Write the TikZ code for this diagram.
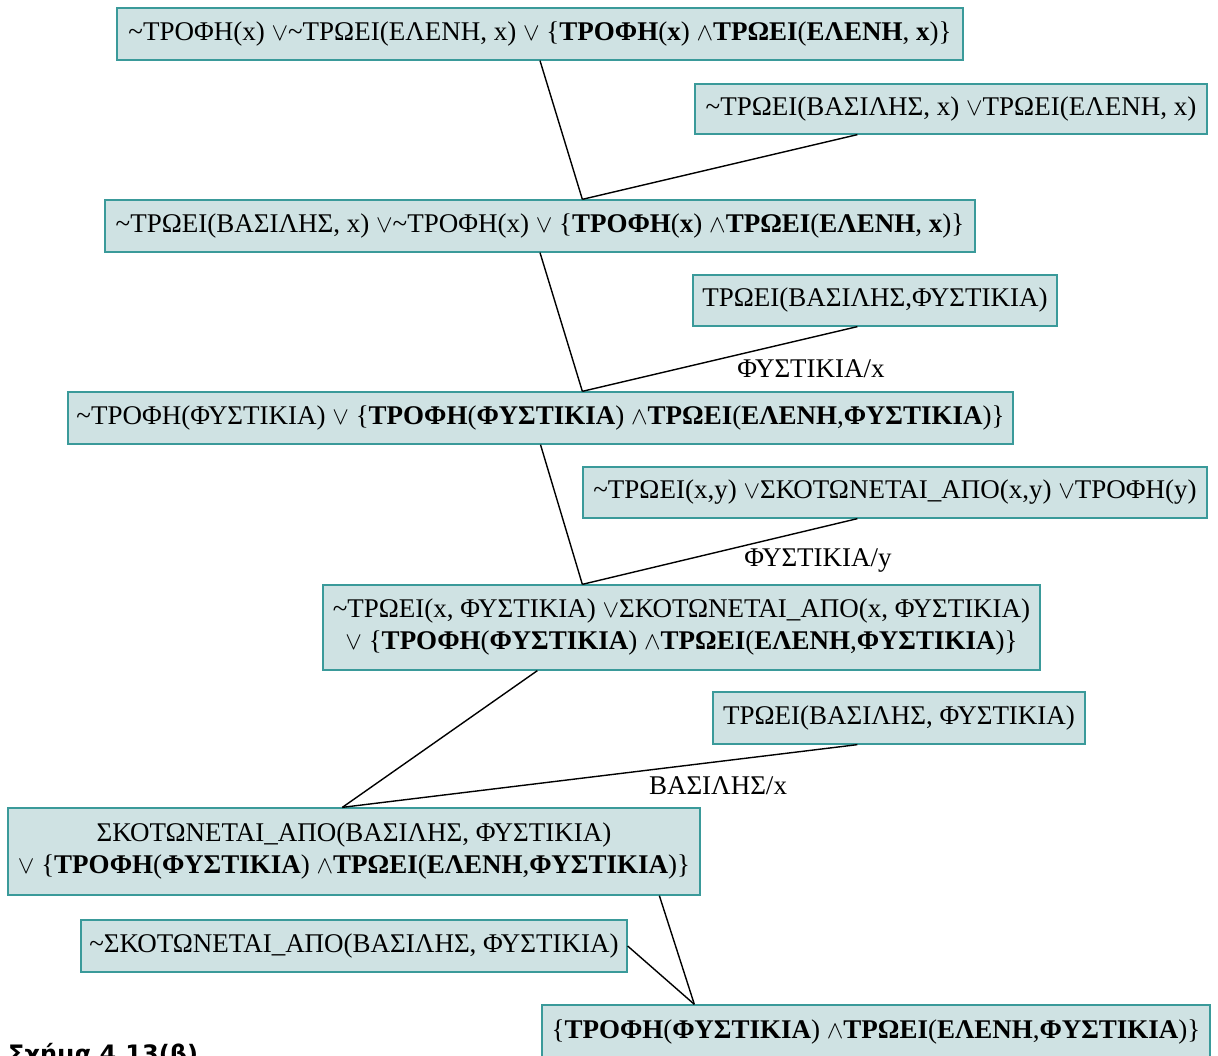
\documentclass[tikz,border=0pt]{standalone}
\usepackage{fontspec}
\setmainfont{Liberation Serif}
\newfontfamily\captionfont{DejaVu Sans}
\usetikzlibrary{calc}
\definecolor{boxfill}{HTML}{CFE2E3}
\definecolor{boxline}{HTML}{3A9A9A}
% small logical connectives
\newcommand{\orsym}{{\fontsize{24}{24}\selectfont$\vee$}}
\newcommand{\andsym}{{\fontsize{24}{24}\selectfont$\wedge$}}
\newcommand{\negsym}{\textasciitilde}
\tikzset{
  clause/.style={draw=boxline, fill=boxfill, line width=1.3pt, inner sep=0pt,
    align=center, font=\fontsize{27}{32}\selectfont},
  subst/.style={inner sep=0pt, font=\fontsize{27}{32}\selectfont},
  conn/.style={draw=black, line width=1.4pt}
}
\begin{document}
\begin{tikzpicture}[x=1pt, y=-1pt]
\clip (0,0) rectangle (1218,1056);
\fill[white] (0,0) rectangle (1218,1056);

\node[clause, minimum width=846, minimum height=52] (A) at (540,34)
  {\negsym ΤΡΟΦΗ(x) \orsym\negsym ΤΡΩΕΙ(ΕΛΕΝΗ, x) \orsym\ \{\textbf{ΤΡΟΦΗ}(\textbf{x}) \andsym\textbf{ΤΡΩΕΙ}(\textbf{ΕΛΕΝΗ}, \textbf{x})\}};
\node[clause, minimum width=512, minimum height=50] (B) at (951,109)
  {\negsym ΤΡΩΕΙ(ΒΑΣΙΛΗΣ, x) \orsym ΤΡΩΕΙ(ΕΛΕΝΗ, x)};
\node[clause, minimum width=870, minimum height=52] (C) at (540,226)
  {\negsym ΤΡΩΕΙ(ΒΑΣΙΛΗΣ, x) \orsym\negsym ΤΡΟΦΗ(x) \orsym\ \{\textbf{ΤΡΟΦΗ}(\textbf{x}) \andsym\textbf{ΤΡΩΕΙ}(\textbf{ΕΛΕΝΗ}, \textbf{x})\}};
\node[clause, minimum width=364, minimum height=51] (D) at (875,300.5)
  {ΤΡΩΕΙ(ΒΑΣΙΛΗΣ,ΦΥΣΤΙΚΙΑ)};
\node[clause, minimum width=945, minimum height=52] (E) at (540.5,418)
  {\negsym ΤΡΟΦΗ(ΦΥΣΤΙΚΙΑ) \orsym\ \{\textbf{ΤΡΟΦΗ}(\textbf{ΦΥΣΤΙΚΙΑ}) \andsym\textbf{ΤΡΩΕΙ}(\textbf{ΕΛΕΝΗ},\textbf{ΦΥΣΤΙΚΙΑ})\}};
\node[clause, minimum width=624, minimum height=51] (F) at (895,492.5)
  {\negsym ΤΡΩΕΙ(x,y) \orsym ΣΚΟΤΩΝΕΤΑΙ\_ΑΠΟ(x,y) \orsym ΤΡΟΦΗ(y)};
\node[clause, minimum width=717, minimum height=85] (G) at (681.5,627.5)
  {\negsym ΤΡΩΕΙ(x, ΦΥΣΤΙΚΙΑ) \orsym ΣΚΟΤΩΝΕΤΑΙ\_ΑΠΟ(x, ΦΥΣΤΙΚΙΑ)\\
   \orsym\ \{\textbf{ΤΡΟΦΗ}(\textbf{ΦΥΣΤΙΚΙΑ}) \andsym\textbf{ΤΡΩΕΙ}(\textbf{ΕΛΕΝΗ},\textbf{ΦΥΣΤΙΚΙΑ})\}};
\node[clause, minimum width=372, minimum height=52] (H) at (899,718)
  {ΤΡΩΕΙ(ΒΑΣΙΛΗΣ, ΦΥΣΤΙΚΙΑ)};
\node[clause, minimum width=692, minimum height=87] (I) at (354,851.5)
  {ΣΚΟΤΩΝΕΤΑΙ\_ΑΠΟ(ΒΑΣΙΛΗΣ, ΦΥΣΤΙΚΙΑ)\\
   \orsym\ \{\textbf{ΤΡΟΦΗ}(\textbf{ΦΥΣΤΙΚΙΑ}) \andsym\textbf{ΤΡΩΕΙ}(\textbf{ΕΛΕΝΗ},\textbf{ΦΥΣΤΙΚΙΑ})\}};
\node[clause, minimum width=546, minimum height=52] (J) at (354,946)
  {\negsym ΣΚΟΤΩΝΕΤΑΙ\_ΑΠΟ(ΒΑΣΙΛΗΣ, ΦΥΣΤΙΚΙΑ)};
\node[clause, minimum width=668, minimum height=54] (K) at (876,1032)
  {\{\textbf{ΤΡΟΦΗ}(\textbf{ΦΥΣΤΙΚΙΑ}) \andsym\textbf{ΤΡΩΕΙ}(\textbf{ΕΛΕΝΗ},\textbf{ΦΥΣΤΙΚΙΑ})\}};

% substitution labels
\node[subst] (s1) at (811,369) {ΦΥΣΤΙΚΙΑ/x};
\node[subst] (s2) at (818,560) {ΦΥΣΤΙΚΙΑ/y};
\node[subst] (s3) at (718,786) {ΒΑΣΙΛΗΣ/x};

% resolution steps
\coordinate (rC) at ($(C.north west)+(478,0)$);
\coordinate (rE) at ($(E.north west)+(515,0)$);
\coordinate (rG) at ($(G.north west)+(260,0)$);
\coordinate (rI) at ($(I.north west)+(335,0)$);
\coordinate (rK) at ($(K.north west)+(153,0)$);
\draw[conn] (A.south) -- (rC);
\draw[conn] ($(B.south west)+(163,0)$) -- (rC);
\draw[conn] (C.south) -- (rE);
\draw[conn] ($(D.south west)+(165,0)$) -- (rE);
\draw[conn] (E.south) -- (rG);
\draw[conn] ($(F.south west)+(275,0)$) -- (rG);
\draw[conn] ($(G.south west)+(215,0)$) -- (rI);
\draw[conn] ($(H.south west)+(145,0)$) -- (rI);
\draw[conn] ($(I.south west)+(652,0)$) -- (rK);
\draw[conn] (J.east) -- (rK);

% figure caption along the lower edge
\node[anchor=base west, inner sep=0pt, font=\captionfont\bfseries\fontsize{24}{28}\selectfont] (cap) at (8,1062) {Σχήμα 4.13(β)};
\end{tikzpicture}
\end{document}
